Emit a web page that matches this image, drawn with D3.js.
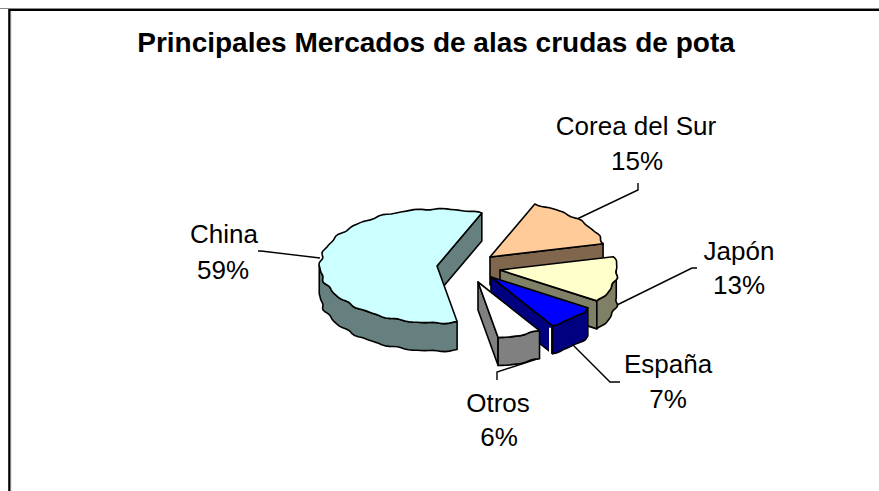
<!DOCTYPE html>
<html><head><meta charset="utf-8">
<script src="https://cdn.jsdelivr.net/npm/d3@7/dist/d3.min.js"></script>
<style>html,body{margin:0;background:#fff}svg{display:block}text{font-family:"Liberation Sans",Arial,sans-serif;fill:#000}</style>
</head><body><script>
const categories=["China","Corea del Sur","Japón","España","Otros"];
const shares=[59,15,13,7,6];
const topColors=["#CCFFFF","#FFCC99","#FFFFCC","#0000FF","#FFFFFF"];
const sideColors=["#668080","#80664D","#808066","#000080","#808080"];
const title="Principales Mercados de alas crudas de pota";
// layout
const W=879,H=491,rx=117,ry=57,depth=28;
const apexes=[[437,266],[490,257],[500,270],[491,277],[478,282]];
const labelPos=[[224,243,223,279],[636,135,637,170],[739,260,739,294],[668,373,668,408],[498,412,499,446]];
const leaders=[[[258,251],[261,251],[320,258]],[[638,183],[638,190],[577,219]],[[697,268],[692,268],[617,305]],[[573,345],[610,382],[620,382]],[[497,380],[497,372],[540,358]]];
const svg=d3.select("body").append("svg").attr("width",W).attr("height",H);
svg.append("path").attr("d",`M0,8.5H${W}`).attr("stroke","#888").attr("stroke-width",1);
svg.append("path").attr("d",`M10.8,11V${H}`).attr("stroke","#aaa").attr("stroke-width",.8);
svg.append("path").attr("d",`M9.3,${H}V10H${W}`).attr("fill","none").attr("stroke","#000").attr("stroke-width",2.2);
svg.append("text").attr("x",436).attr("y",52).attr("text-anchor","middle").attr("font-size",28).attr("font-weight","bold").text(title);
const line=d3.line();
svg.append("g").selectAll("path").data(leaders).join("path").attr("d",d=>line(d)).attr("fill","none").attr("stroke","#000").attr("stroke-width",1.4);

const pie=d3.pie().sort(null).startAngle(170*Math.PI/180).endAngle((170+360)*Math.PI/180);
const arcs=pie(shares);
const toX=d3.scaleLinear().domain([-1,1]).range([-rx,rx]);
const toY=d3.scaleLinear().domain([-1,1]).range([ry,-ry]);
// slightly scalloped rim, as in the low-resolution original
const bump=a=>1+0.009*Math.sin(a*23)+0.005*Math.sin(a*37+1);
const pt=(c,a,dz=0)=>{const r=bump(a);return [c[0]+toX(Math.sin(a)*r),c[1]+toY(Math.cos(a)*r)+dz];};
const samples=(a0,a1)=>{const n=Math.max(2,Math.ceil((a1-a0)/(2*Math.PI/180)));return d3.range(n+1).map(i=>a0+(a1-a0)*i/n);};
const stroke={stroke:"#000","stroke-width":1.6,"stroke-linejoin":"round"};
const g=svg.append("g");
function face(pts,fill){const p=g.append("path").attr("d",line(pts)+"Z").attr("fill",fill);for(const k in stroke)p.attr(k,stroke[k]);}
arcs.forEach((d,i)=>{
  const c=apexes[i],a0=d.startAngle,a1=d.endAngle;
  const end=pt(c,a1);
  if(Math.cos(a1+Math.PI/2)<0) face([c,end,[end[0],end[1]+depth],[c[0],c[1]+depth]],sideColors[i]);
  [[Math.PI/2,3*Math.PI/2],[5*Math.PI/2,7*Math.PI/2]].forEach(([lo,hi])=>{
    const s=Math.max(a0,lo),e=Math.min(a1,hi);
    if(e>s){const top=samples(s,e).map(a=>pt(c,a));const bot=samples(s,e).map(a=>pt(c,a,depth)).reverse();face(top.concat(bot),sideColors[i]);}
  });
  face([c].concat(samples(a0,a1).map(a=>pt(c,a))),topColors[i]);
  if(categories[i]==="España"){
    const p=pt(c,a1);
    g.append("line").attr("x1",p[0]-2.5).attr("x2",p[0]-2.5).attr("y1",p[1]+2).attr("y2",p[1]+depth).attr("stroke","#fff").attr("stroke-width",2);
  }
});
const lab=svg.append("g");
categories.forEach((n,i)=>{
  const p=labelPos[i];
  lab.append("text").attr("x",p[0]).attr("y",p[1]).attr("text-anchor","middle").attr("font-size",26).text(n);
  lab.append("text").attr("x",p[2]).attr("y",p[3]).attr("text-anchor","middle").attr("font-size",26).text(shares[i]+"%");
});
</script></body></html>
